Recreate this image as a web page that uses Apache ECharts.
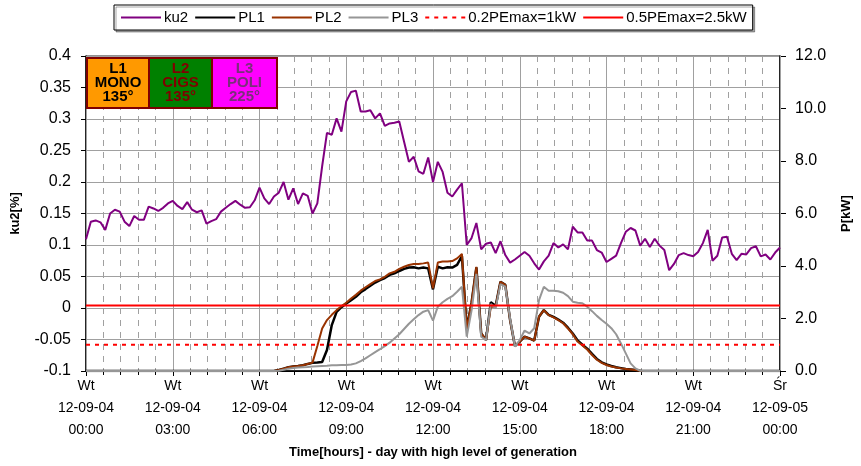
<!DOCTYPE html>
<html>
<head>
<meta charset="utf-8">
<script src="https://cdn.jsdelivr.net/npm/echarts@6/dist/echarts.min.js"></script>
<style>
  html, body { margin: 0; padding: 0; background: #fff; }
  #chart { width: 861px; height: 466px; }
</style>
</head>
<body>
<div id="chart"></div>
<script>
// samples every 10 minutes, 12-09-04 00:00 .. 12-09-05 00:00
const stepMin = 10
const xLabels = [
  'Wt\n12-09-04\n00:00', 'Wt\n12-09-04\n03:00', 'Wt\n12-09-04\n06:00',
  'Wt\n12-09-04\n09:00', 'Wt\n12-09-04\n12:00', 'Wt\n12-09-04\n15:00',
  'Wt\n12-09-04\n18:00', 'Wt\n12-09-04\n21:00', 'Śr\n12-09-05\n00:00'
]

const ku2 = [
  0.109, 0.137, 0.139, 0.136, 0.124, 0.150, 0.156, 0.153, 0.137, 0.130,
  0.146, 0.140, 0.140, 0.161, 0.158, 0.154, 0.159, 0.166, 0.170, 0.162,
  0.157, 0.168, 0.156, 0.152, 0.155, 0.134, 0.138, 0.141, 0.153, 0.159,
  0.165, 0.170, 0.164, 0.159, 0.160, 0.171, 0.191, 0.174, 0.165, 0.177,
  0.183, 0.200, 0.172, 0.190, 0.165, 0.182, 0.178, 0.150, 0.166, 0.225,
  0.278, 0.275, 0.301, 0.280, 0.328, 0.343, 0.345, 0.312, 0.312, 0.314,
  0.301, 0.309, 0.289, 0.293, 0.294, 0.296, 0.264, 0.232, 0.240, 0.217,
  0.213, 0.239, 0.200, 0.232, 0.216, 0.183, 0.177, 0.188, 0.198, 0.100,
  0.111, 0.135, 0.093, 0.102, 0.104, 0.087, 0.106, 0.084, 0.072, 0.077,
  0.083, 0.089, 0.083, 0.071, 0.061, 0.074, 0.083, 0.103, 0.096, 0.101,
  0.093, 0.129, 0.120, 0.120, 0.107, 0.107, 0.092, 0.088, 0.073, 0.078,
  0.083, 0.103, 0.121, 0.127, 0.123, 0.099, 0.110, 0.097, 0.110, 0.099,
  0.092, 0.060, 0.070, 0.084, 0.087, 0.084, 0.082, 0.089, 0.103, 0.124,
  0.075, 0.083, 0.112, 0.113, 0.086, 0.076, 0.086, 0.085, 0.095, 0.098,
  0.082, 0.085, 0.077, 0.088, 0.096
]

const pl1 = [
  0, 0, 0, 0, 0, 0, 0, 0, 0, 0,
  0, 0, 0, 0, 0, 0, 0, 0, 0, 0,
  0, 0, 0, 0, 0, 0, 0, 0, 0, 0,
  0, 0, 0, 0, 0, 0, 0, 0, 0, 0,
  0.04, 0.09, 0.14, 0.17, 0.19, 0.22, 0.27, 0.31, 0.32, 0.34,
  0.80, 1.75, 2.25, 2.43, 2.57, 2.70, 2.83, 3.00, 3.12, 3.25,
  3.37, 3.46, 3.54, 3.66, 3.72, 3.81, 3.89, 3.94, 3.95, 3.91,
  3.94, 3.91, 3.11, 3.97, 3.91, 3.95, 3.94, 4.04, 4.38, 1.63,
  2.60, 3.95, 1.43, 1.18, 2.62, 2.48, 3.40, 3.28, 1.94, 0.95,
  1.12, 1.31, 1.24, 1.16, 2.07, 2.32, 2.14, 2.06, 1.96, 1.84,
  1.65, 1.43, 1.16, 1.00, 0.85, 0.65, 0.46, 0.33, 0.25, 0.19,
  0.14, 0.11, 0.08, 0.06, 0.04, 0.01, 0, 0, 0, 0,
  0, 0, 0, 0, 0, 0, 0, 0, 0, 0,
  0, 0, 0, 0, 0, 0, 0, 0, 0, 0,
  0, 0, 0, 0, 0
]

const pl2 = [
  0, 0, 0, 0, 0, 0, 0, 0, 0, 0,
  0, 0, 0, 0, 0, 0, 0, 0, 0, 0,
  0, 0, 0, 0, 0, 0, 0, 0, 0, 0,
  0, 0, 0, 0, 0, 0, 0, 0, 0, 0,
  0.04, 0.09, 0.14, 0.17, 0.19, 0.22, 0.27, 0.32, 0.95, 1.62,
  1.94, 2.14, 2.32, 2.47, 2.60, 2.76, 2.90, 3.06, 3.19, 3.31,
  3.43, 3.49, 3.59, 3.72, 3.78, 3.89, 3.97, 4.04, 4.08, 4.08,
  4.10, 4.13, 3.15, 4.13, 4.17, 4.17, 4.19, 4.29, 4.46, 1.60,
  2.60, 3.97, 1.43, 1.18, 2.45, 2.45, 3.40, 3.28, 1.94, 0.95,
  1.12, 1.31, 1.24, 1.16, 2.07, 2.32, 2.13, 2.04, 1.94, 1.82,
  1.62, 1.40, 1.12, 0.97, 0.82, 0.61, 0.43, 0.31, 0.23, 0.17,
  0.13, 0.10, 0.08, 0.06, 0.04, 0.01, 0, 0, 0, 0,
  0, 0, 0, 0, 0, 0, 0, 0, 0, 0,
  0, 0, 0, 0, 0, 0, 0, 0, 0, 0,
  0, 0, 0, 0, 0
]

const pl3 = [
  0, 0, 0, 0, 0, 0, 0, 0, 0, 0,
  0, 0, 0, 0, 0, 0, 0, 0, 0, 0,
  0, 0, 0, 0, 0, 0, 0, 0, 0, 0,
  0, 0, 0, 0, 0, 0, 0, 0, 0, 0,
  0.01, 0.05, 0.09, 0.11, 0.13, 0.14, 0.15, 0.17, 0.18, 0.19,
  0.20, 0.22, 0.22, 0.23, 0.23, 0.25, 0.29, 0.38, 0.48, 0.60,
  0.72, 0.83, 0.95, 1.08, 1.24, 1.40, 1.60, 1.80, 1.97, 2.13,
  2.26, 2.32, 1.92, 2.45, 2.62, 2.75, 2.85, 3.02, 3.21, 1.31,
  2.30, 3.70, 1.31, 1.18, 2.55, 2.39, 3.31, 3.21, 2.00, 0.93,
  1.18, 1.54, 1.43, 1.63, 2.70, 3.21, 3.06, 3.06, 3.04, 2.98,
  2.85, 2.64, 2.60, 2.58, 2.45, 2.28, 2.10, 1.94, 1.80, 1.63,
  1.40, 1.05, 0.67, 0.29, 0.10, 0.01, 0, 0, 0, 0,
  0, 0, 0, 0, 0, 0, 0, 0, 0, 0,
  0, 0, 0, 0, 0, 0, 0, 0, 0, 0,
  0, 0, 0, 0, 0
]

// limits in kW
const pe02 = 1
const pe05 = 2.5

const hours = ku2.map((v, i) => i * stepMin / 60)
const pairs = arr => arr.map((v, i) => [hours[i], v])

const chart = echarts.init(document.getElementById('chart'), null, { renderer: 'canvas' })

const gridCol = '#a0a0a0'
const font = 'Liberation Sans, Arial, sans-serif'

const lineSeries = (name, yIdx, data, color, width, type) => ({
  name, type: 'line', yAxisIndex: yIdx, xAxisIndex: 0, data,
  symbol: 'none', showSymbol: false, color,
  lineStyle: { width, color, type: type || 'solid' }
})

const option = {
  animation: false,
  textStyle: { fontFamily: font },
  legend: {
    left: 114, top: 5,
    itemWidth: 40, itemHeight: 12, itemGap: 6,
    padding: [5, 6],
    borderColor: '#000', borderWidth: 1,
    backgroundColor: '#fff',
    shadowColor: 'rgba(0,0,0,0.35)', shadowOffsetX: 2, shadowOffsetY: 2,
    itemStyle: { color: 'transparent', borderColor: 'transparent', borderWidth: 0 },
    textStyle: { fontSize: 15, color: '#000', fontFamily: font, padding: [0, 0, 0, -2] },
    data: ['ku2', 'PL1', 'PL2', 'PL3', '0.2PEmax=1kW', '0.5PEmax=2.5kW']
  },
  grid: { left: 86, right: 70, top: 56, bottom: 95, show: true, borderColor: '#222', borderWidth: 1 },
  xAxis: [
    {
      type: 'value', min: 0, max: 24, interval: 3, position: 'bottom',
      name: 'Time[hours] - day with high level of generation',
      nameLocation: 'middle', nameGap: 74,
      nameTextStyle: { fontSize: 13, fontWeight: 'bold', color: '#000' },
      axisLine: { onZero: false, lineStyle: { color: '#000', width: 1.5 } },
      axisTick: { length: 5, lineStyle: { color: '#000' } },
      splitLine: { show: true, lineStyle: { color: gridCol, width: 1 } },
      axisLabel: {
        fontSize: 14, color: '#000', lineHeight: 22, margin: 4,
        formatter: v => xLabels[Math.round(v / 3)]
      },
      z: 3
    },
    {
      // minor 36-minute divisions (dashed grid + small ticks)
      type: 'value', min: 0, max: 24, interval: 0.6, position: 'bottom', offset: 0,
      axisLine: { show: true, onZero: false, lineStyle: { color: '#000', width: 1 } },
      axisTick: { show: true, length: 4, lineStyle: { color: '#000' } },
      axisLabel: { show: false },
      splitLine: { show: true, lineStyle: { color: gridCol, width: 1, type: [6, 6] } },
      z: 1
    }
  ],
  yAxis: [
    {
      type: 'value', min: -0.1, max: 0.4, interval: 0.05, position: 'left',
      name: 'ku2[%]', nameLocation: 'middle', nameGap: 64, nameRotate: 90,
      nameTextStyle: { fontSize: 13, fontWeight: 'bold', color: '#000' },
      axisLine: { show: true, onZero: false, lineStyle: { color: '#000', width: 1.5 } },
      axisTick: { show: true, length: 5, lineStyle: { color: '#000' } },
      splitLine: { show: true, lineStyle: { color: gridCol, width: 1 } },
      axisLabel: { fontSize: 16, color: '#000', margin: 15, formatter: v => String(+v.toFixed(2)) }
    },
    {
      type: 'value', min: 0, max: 12, interval: 2, position: 'right',
      name: 'P[kW]', nameLocation: 'middle', nameGap: 60, nameRotate: 90,
      nameTextStyle: { fontSize: 13, fontWeight: 'bold', color: '#000' },
      axisLine: { show: true, onZero: false, lineStyle: { color: '#000', width: 1.5 } },
      axisTick: { show: true, length: 6, lineStyle: { color: '#000' } },
      splitLine: { show: false },
      axisLabel: { fontSize: 16, color: '#000', margin: 15, formatter: v => v.toFixed(1) }
    }
  ],
  series: [
    lineSeries('ku2', 0, pairs(ku2), '#800080', 2),
    lineSeries('PL1', 1, pairs(pl1), '#000000', 2.5),
    lineSeries('PL2', 1, pairs(pl2), '#993300', 2),
    lineSeries('PL3', 1, pairs(pl3), '#969696', 2),
    lineSeries('0.2PEmax=1kW', 1, [[0, pe02], [24, pe02]], '#ff0000', 2, [4, 5]),
    lineSeries('0.5PEmax=2.5kW', 1, [[0, pe05], [24, pe05]], '#ff0000', 2)
  ],
  graphic: [
    { type: 'group', left: 86, top: 57, z: 100, children: [
      { type: 'rect', z: 100, shape: { x: 0, y: 0, width: 62, height: 50 },
        style: { fill: '#ff9900', stroke: '#800000', lineWidth: 2 } },
      { type: 'rect', z: 100, shape: { x: 62, y: 0, width: 63, height: 50 },
        style: { fill: '#008000', stroke: '#800000', lineWidth: 2 } },
      { type: 'rect', z: 100, shape: { x: 125, y: 0, width: 65, height: 50 },
        style: { fill: '#ff00ff', stroke: '#800000', lineWidth: 2 } },
      { type: 'text', z: 101, x: 31, y: 4, style: { text: 'L1\nMONO\n135°', fill: '#000',
        align: 'center', verticalAlign: 'top', font: 'bold 15px ' + font, lineHeight: 14 } },
      { type: 'text', z: 101, x: 93.5, y: 4, style: { text: 'L2\nCIGS\n135°', fill: '#800000',
        align: 'center', verticalAlign: 'top', font: 'bold 15px ' + font, lineHeight: 14 } },
      { type: 'text', z: 101, x: 157.5, y: 4, style: { text: 'L3\nPOLI\n225°', fill: '#7a307a',
        align: 'center', verticalAlign: 'top', font: 'bold 15px ' + font, lineHeight: 14 } }
    ] }
  ]
}

chart.setOption(option)
</script>
</body>
</html>
